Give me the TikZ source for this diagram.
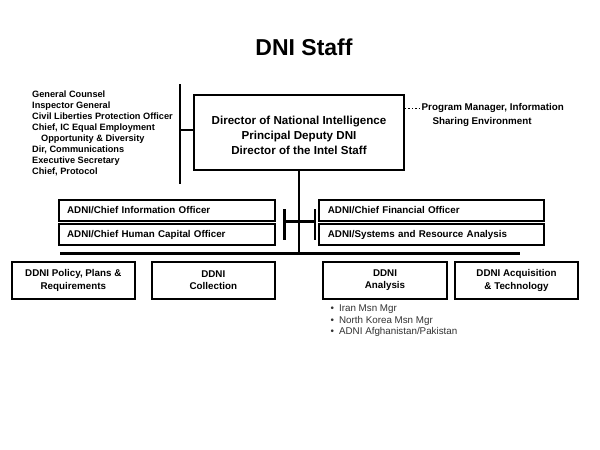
\documentclass[tikz,border=0pt]{standalone}
\usepackage{fontspec}
\setmainfont{Liberation Sans}
\begin{document}
\begin{tikzpicture}[x=1pt,y=-1pt,
  boxline/.style={draw=black,line width=2.1pt},
  conn/.style={draw=black,line width=2.1pt},
  adnibox/.style={boxline,rectangle,inner xsep=8.5pt,inner ysep=0pt,minimum height=21pt,align=left,font=\bfseries\fontsize{9.8}{12}\selectfont},
  ddnibox/.style={boxline,rectangle,inner sep=0pt,minimum width=123.3pt,minimum height=37.6pt,align=center,font=\bfseries\fontsize{9.8}{12.2}\selectfont},
  plain/.style={inner sep=0pt,anchor=west}]
\useasboundingbox (0,0) rectangle (600,450);
\fill[white] (0,0) rectangle (600,450);

% title
\node[inner sep=0pt,font=\bfseries\fontsize{23}{25}\selectfont] (title) at (304,47.5) {DNI Staff};

% staff list
\node[plain,align=left,font=\bfseries\fontsize{9.2}{11}\selectfont] (staff) at (32,133.6)
 {General Counsel\\Inspector General\\Civil Liberties Protection Officer\\Chief, IC Equal Employment\\\hspace*{9pt}Opportunity \& Diversity\\Dir, Communications\\Executive Secretary\\Chief, Protocol};

% DNI box
\node[boxline,rectangle,inner sep=0pt,minimum width=210pt,minimum height=75pt] (dni) at (299,132.5) {};
\node[inner sep=0pt,align=center,font=\bfseries\fontsize{11.6}{15}\selectfont] (dnit) at (299,135)
 {Director of National Intelligence\\Principal Deputy DNI\\Director of the Intel Staff};

% program manager
\node[plain,font=\bfseries\fontsize{9.8}{12}\selectfont] (pm1) at (421.5,108.3) {Program Manager, Information};
\node[plain,font=\bfseries\fontsize{9.8}{12}\selectfont] (pm2) at (432.3,121.5) {Sharing Environment};
\draw[line width=1.4pt,dotted] (pm1.west -| dni.east) -- (pm1.west);

% staff connector
\coordinate (st) at (180,84);
\coordinate (sb) at (180,183.5);
\coordinate (sm) at (180,130);
\draw[conn] (st) -- (sb);
\draw[conn] (sm) -- (sm -| dni.west);

% ADNI boxes
\node[adnibox,minimum width=216.4pt,text width=199.4pt] (cio) at (166.8,210.1) {ADNI/Chief Information Officer};
\node[adnibox,minimum width=216.4pt,text width=199.4pt,minimum height=20.4pt] (chco) at (166.8,234.5) {ADNI/Chief Human Capital Officer};
\node[adnibox,minimum width=224.7pt,text width=207.7pt] (cfo) at (431.7,210.1) {ADNI/Chief Financial Officer};
\node[adnibox,minimum width=224.7pt,text width=207.7pt,minimum height=20.4pt] (sra) at (431.7,234.5) {ADNI/Systems and Resource Analysis};

% bracket
\coordinate (bl1) at (284.5,209);
\coordinate (bl2) at (284.5,240);
\coordinate (br1) at (315,209);
\coordinate (br2) at (315,240);
\coordinate (bl) at (284.5,221.5);
\coordinate (br) at (315,221.5);
\draw[conn] (bl1) -- (bl2);
\draw[conn] (br1) -- (br2);
\draw[conn] (bl) -- (br);

% main horizontal line
\coordinate (hl) at (60,253.5);
\coordinate (hr) at (520,253.5);
\coordinate (vb) at (dni.south |- hl);
\draw[conn] (hl) -- (hr);
\draw[conn] (dni.south) -- (vb);

% DDNI boxes
\node[ddnibox] (ppr) at (73.3,280.5) {DDNI Policy, Plans \&\\Requirements};
\node[ddnibox] (col) at (213.3,280.5) {DDNI\\Collection};
\node[ddnibox] (ana) at (385,280.5) {DDNI\\Analysis};
\node[ddnibox] (acq) at (516.5,280.5) {DDNI Acquisition\\\& Technology};

% bullets
\node[plain,align=left,text=black!80,font=\fontsize{9.8}{11.5}\selectfont] (bul) at (330.5,320.8)
 {•\hspace{5pt}Iran Msn Mgr\\•\hspace{5pt}North Korea Msn Mgr\\•\hspace{5pt}ADNI Afghanistan/Pakistan};
\end{tikzpicture}
\end{document}
